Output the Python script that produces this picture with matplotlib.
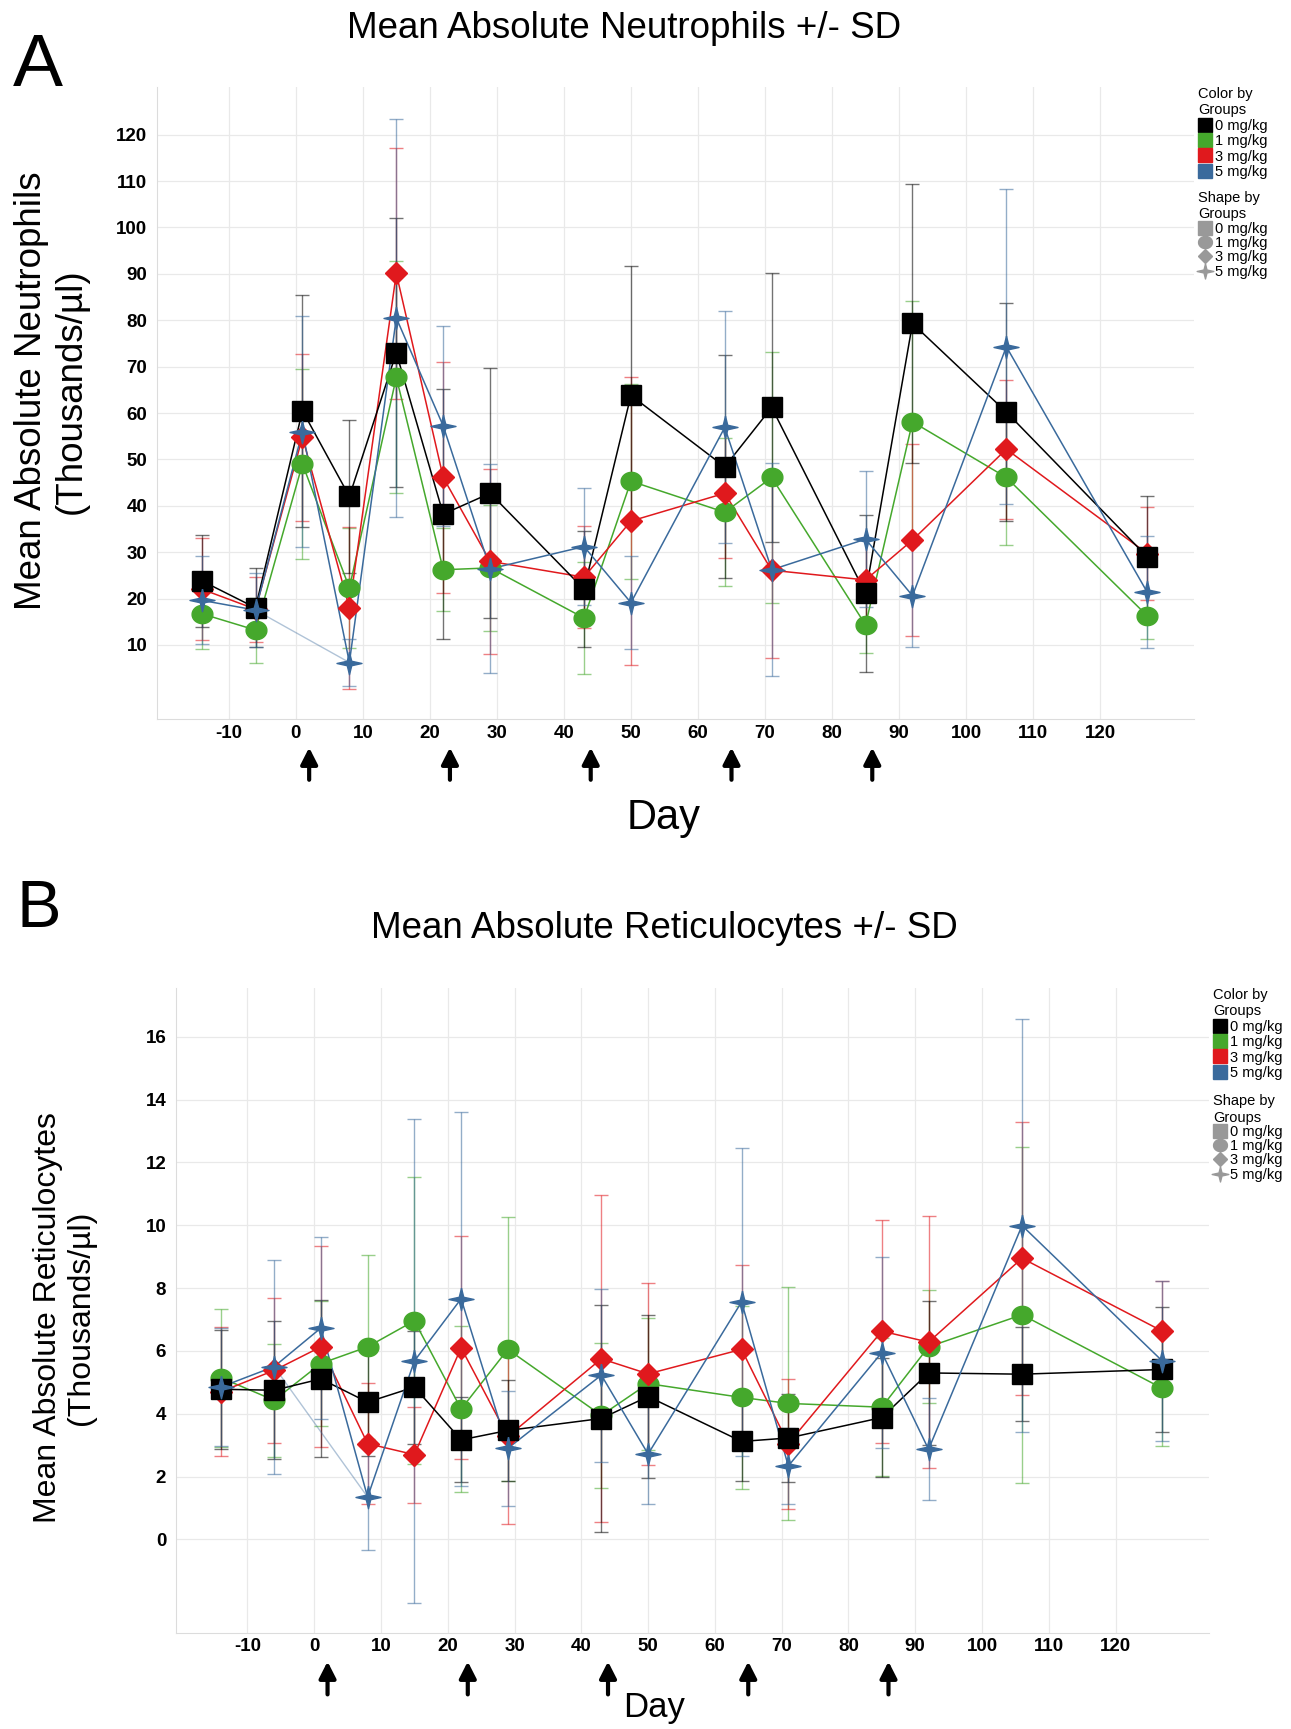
import numpy as np
import matplotlib.pyplot as plt
from matplotlib.lines import Line2D

plt.rcParams['font.family'] = ['Liberation Sans', 'DejaVu Sans']
plt.rcParams['axes.unicode_minus'] = False

# study days (same for every group)
days = [-14, -6, 1, 8, 15, 22, 29, 43, 50, 64, 71, 85, 92, 106, 127]
dose_days = [2, 23, 44, 65, 86]
groups = ['0 mg/kg', '1 mg/kg', '3 mg/kg', '5 mg/kg']

# neutrophils, means and SD per group
neu_0 = [23.8, 18.0, 60.5, 42.0, 73.0, 38.2, 42.7, 22.0, 63.8, 48.4, 61.2, 21.1, 79.3, 60.2, 29.0]
neu_0_sd = [10, 8.5, 25, 16.5, 29, 27, 27, 12.5, 28, 24, 29, 17, 30, 23.5, 13]
neu_1 = [16.7, 13.2, 49.0, 22.3, 67.7, 26.2, 26.6, 15.8, 45.3, 38.6, 46.1, 14.3, 58.1, 46.1, 16.3]
neu_1_sd = [7.5, 7, 20.5, 13, 25, 9, 13.5, 12, 21, 16, 27, 6, 26, 14.5, 5]
neu_3 = [22.0, 17.7, 54.8, 18.0, 90.1, 46.1, 28.0, 24.6, 36.7, 42.7, 26.1, 24.0, 32.6, 52.2, 29.7]
neu_3_sd = [11, 7, 18, 17.5, 27, 25, 20, 11, 31, 14, 19, 9, 20.7, 15, 10]
neu_5 = [19.6, 17.5, 56.0, 6.2, 80.5, 57.2, 26.4, 31.2, 19.1, 56.9, 26.2, 32.8, 20.6, 74.3, 21.4]
neu_5_sd = [9.5, 8, 25, 5, 43, 21.5, 22.5, 12.7, 10, 25, 23, 14.7, 11, 34, 12]

# reticulocytes, means and SD per group
ret_0 = [4.78, 4.75, 5.11, 4.37, 4.85, 3.17, 3.47, 3.85, 4.55, 3.12, 3.23, 3.88, 5.30, 5.26, 5.41]
ret_0_sd = [1.9, 2.2, 2.5, 1.7, 1.8, 1.35, 1.6, 3.6, 2.6, 1.25, 1.4, 1.9, 2.3, 1.5, 2.0]
ret_1 = [5.15, 4.43, 5.6, 6.13, 6.96, 4.15, 6.05, 3.95, 4.96, 4.52, 4.33, 4.21, 6.13, 7.15, 4.81]
ret_1_sd = [2.2, 1.8, 2.0, 2.93, 4.56, 2.65, 4.2, 2.3, 2.1, 2.9, 3.7, 2.2, 1.8, 5.35, 1.85]
ret_3 = [4.70, 5.38, 6.13, 3.05, 2.70, 6.10, 3.28, 5.75, 5.27, 6.05, 3.05, 6.63, 6.28, 8.95, 6.63]
ret_3_sd = [2.05, 2.3, 3.2, 1.93, 1.53, 3.55, 2.78, 5.2, 2.9, 2.7, 2.07, 3.55, 4.0, 4.35, 1.6]
ret_5 = [4.85, 5.5, 6.73, 1.35, 5.68, 7.66, 2.9, 5.23, 2.72, 7.56, 2.34, 5.95, 2.87, 9.99, 5.68]
ret_5_sd = [1.88, 3.4, 2.9, 1.7, 7.7, 5.95, 1.83, 2.75, 1.6, 4.9, 1.2, 3.05, 1.62, 6.56, 2.55]

colors = ['#000000', '#45a82c', '#e0191d', '#3a6a9c']

# custom markers: ellipse and 4-point star
t = np.linspace(0, 2 * np.pi, 40)
ellipse = list(zip(np.cos(t), 0.88 * np.sin(t)))
star4 = [(0, 0.9), (0.18, 0.18), (1, 0), (0.18, -0.18), (0, -0.9),
         (-0.18, -0.18), (-1, 0), (-0.18, 0.18), (0, 0.9)]
markers = ['s', ellipse, 'D', star4]
msizes = [15, 15, 11, 18]
zorders = [5, 3, 4, 6]


def draw_panel(ax, means, sds, ylim, yticks):
    d = np.array(days)
    for i in [1, 2, 0, 3]:
        m = np.array(means[i])
        ax.errorbar(d, m, yerr=sds[i], fmt='none', ecolor=colors[i],
                    elinewidth=1, capsize=5, capthick=1, alpha=0.55, zorder=1)
    for i in [1, 2, 0, 3]:
        ax.plot(d, means[i], color=colors[i], lw=1.1, zorder=2)
        ax.plot(d, means[i], ls='none', marker=markers[i], ms=msizes[i],
                color=colors[i], mec=colors[i], zorder=zorders[i])
    # faint leftover segment seen in the original (5 mg/kg skipping day 1)
    ax.plot(d[[1, 3]], np.array(means[3])[[1, 3]], color=colors[3], lw=1, alpha=0.4, zorder=2)

    ax.set_xlim(-20.7, 134)
    ax.set_ylim(*ylim)
    ax.set_xticks(range(-10, 121, 10))
    ax.set_yticks(yticks)
    ax.tick_params(length=0, labelsize=13.5, pad=4)
    for lab in ax.get_xticklabels() + ax.get_yticklabels():
        lab.set_fontweight('bold')
    ax.tick_params(axis='y', pad=7)
    ax.grid(True, color='#e9e9e9', lw=0.9)
    ax.set_axisbelow(True)
    for s in ['top', 'right']:
        ax.spines[s].set_visible(False)
    for s in ['left', 'bottom']:
        ax.spines[s].set_color('#dcdcdc')

    # dosing arrows
    tr = ax.get_xaxis_transform()
    for dd in dose_days:
        ax.annotate('', xy=(dd, -0.045), xytext=(dd, -0.096), xycoords=tr, textcoords=tr,
                    arrowprops=dict(arrowstyle='-|>,head_width=0.28,head_length=0.55',
                                    lw=3, color='black', mutation_scale=18,
                                    shrinkA=0, shrinkB=0))

    # legends
    h1 = [Line2D([], [], ls='none', marker='s', ms=10.5, color=c) for c in colors]
    leg1 = ax.legend(h1, groups, title='Color by\nGroups', loc='upper left',
                     bbox_to_anchor=(1.004, 1.0), frameon=False, fontsize=10.5,
                     title_fontsize=10.5, alignment='left', borderaxespad=0, borderpad=0,
                     handletextpad=0.15, handlelength=1.0, labelspacing=0.1)
    ax.add_artist(leg1)
    h2 = [Line2D([], [], ls='none', marker=markers[i], ms=[10, 10, 7.5, 12][i], color='#999999')
          for i in range(4)]
    ax.legend(h2, groups, title='Shape by\nGroups', loc='upper left',
              bbox_to_anchor=(1.004, 0.835), frameon=False, fontsize=10.5,
              title_fontsize=10.5, alignment='left', borderaxespad=0, borderpad=0,
              handletextpad=0.15, handlelength=1.0, labelspacing=0.02)


fig = plt.figure(figsize=(12.91, 17.29), dpi=100)

axA = fig.add_axes([0.1216, 0.5841, 0.8033, 0.3656])
draw_panel(axA, [neu_0, neu_1, neu_3, neu_5], [neu_0_sd, neu_1_sd, neu_3_sd, neu_5_sd],
           (-6, 130.3), range(10, 121, 10))

axB = fig.add_axes([0.1363, 0.0558, 0.8002, 0.3728])
draw_panel(axB, [ret_0, ret_1, ret_3, ret_5], [ret_0_sd, ret_1_sd, ret_3_sd, ret_5_sd],
           (-2.96, 17.55), range(0, 17, 2))

fig.text(0.4833, 0.9838, 'Mean Absolute Neutrophils +/- SD', ha='center', va='center', fontsize=26.5)
fig.text(0.5143, 0.4627, 'Mean Absolute Reticulocytes +/- SD', ha='center', va='center', fontsize=26.5)
fig.text(0.0294, 0.9618, 'A', ha='center', va='center', fontsize=54)
fig.text(0.0302, 0.4737, 'B', ha='center', va='center', fontsize=48)
fig.text(0.0397, 0.7739, 'Mean Absolute Neutrophils\n(Thousands/µl)', rotation=90,
         ha='center', va='center', multialignment='center', fontsize=26.5, linespacing=1.15)
fig.text(0.0500, 0.2377, 'Mean Absolute Reticulocytes\n(Thousands/µl)', rotation=90,
         ha='center', va='center', multialignment='center', fontsize=23, linespacing=1.15)
fig.text(0.5143, 0.5269, 'Day', ha='center', va='center', fontsize=30)
fig.text(0.5070, 0.0127, 'Day', ha='center', va='center', fontsize=25)

fig.savefig('out.png', dpi=100)
